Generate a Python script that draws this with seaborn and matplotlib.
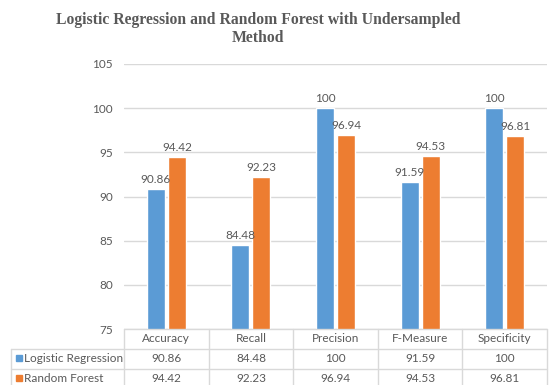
import numpy as np
import pandas as pd
import matplotlib
matplotlib.use("Agg")
import matplotlib.pyplot as plt
import seaborn as sns
from matplotlib.lines import Line2D

# metrics and scores
metrics = ["Accuracy", "Recall", "Precision", "F-Measure", "Specificity"]
models = ["Logistic Regression", "Random Forest"]
lr_scores = [90.86, 84.48, 100, 91.59, 100]
rf_scores = [94.42, 92.23, 96.94, 94.53, 96.81]
yticks = [75, 80, 85, 90, 95, 100, 105]

colors = ["#5B9BD5", "#ED7D31"]
grey = "#595959"
line_grey = "#D9D9D9"

df = pd.DataFrame({
    "metric": metrics * 2,
    "model": [models[0]] * len(metrics) + [models[1]] * len(metrics),
    "score": lr_scores + rf_scores,
})

sns.set_style("white")
plt.rcParams["font.family"] = ["Lato", "DejaVu Sans"]

W, H = 558, 385
fig = plt.figure(figsize=(W / 100, H / 100), dpi=100)

def fx(px):
    return px / W

def fy(py):
    return 1 - py / H

x0, x1, ytop, ybot = 124, 547, 64, 329
ax = fig.add_axes([fx(x0), fy(ybot), fx(x1) - fx(x0), fy(ytop) - fy(ybot)])

sns.barplot(data=df, x="metric", y="score", hue="model", palette=colors,
            width=0.5, gap=0.15, ax=ax, legend=False, saturation=1)

for cont, vals in zip(ax.containers, [lr_scores, rf_scores]):
    ax.bar_label(cont, labels=[f"{v:g}" for v in vals], padding=3,
                 fontsize=8.5, color=grey)

ax.set_ylim(75, 105)
ax.set_yticks(yticks)
ax.set_xlim(-0.5, len(metrics) - 0.5)
ax.set_xticks([])
ax.set_xlabel("")
ax.set_ylabel("")
ax.yaxis.grid(True, color=line_grey, lw=1)
ax.set_axisbelow(True)
ax.tick_params(axis="y", length=0, labelsize=8.5, labelcolor=grey, pad=8)
sns.despine(ax=ax, left=True, bottom=True)

# title
fig.text(fx(258), fy(20), "Logistic Regression and Random Forest with Undersampled",
         ha="center", va="center", fontsize=11.3, fontweight="bold",
         family="Liberation Serif", color=grey)
fig.text(fx(258), fy(38), "Method", ha="center", va="center", fontsize=11.3,
         fontweight="bold", family="Liberation Serif", color=grey)

# data table under the axis
col_w = (x1 - x0) / len(metrics)
row_y = [329, 349, 369, 389]
left = 11

def hline(y, xa, xb):
    fig.add_artist(Line2D([fx(xa), fx(xb)], [fy(y), fy(y)], color=line_grey, lw=1))

def vline(x, ya, yb):
    fig.add_artist(Line2D([fx(x), fx(x)], [fy(ya), fy(yb)], color=line_grey, lw=1))

hline(row_y[0], x0, x1)
for y in row_y[1:]:
    hline(y, left, x1)
for i in range(len(metrics) + 1):
    vline(x0 + i * col_w, row_y[0], row_y[3])
vline(left, row_y[1], row_y[3])

for i, m in enumerate(metrics):
    cx = x0 + (i + 0.5) * col_w
    fig.text(fx(cx), fy((row_y[0] + row_y[1]) / 2), m, ha="center", va="center",
             fontsize=8.5, color=grey)
    for r, vals in enumerate([lr_scores, rf_scores]):
        cy = (row_y[r + 1] + row_y[r + 2]) / 2 - 1
        fig.text(fx(cx), fy(cy), f"{vals[i]:g}", ha="center", va="center",
                 fontsize=8.5, color=grey)

for r, name in enumerate(models):
    cy = (row_y[r + 1] + row_y[r + 2]) / 2 - 1
    fig.add_artist(Line2D([fx(18.5)], [fy(cy)], marker="s", ms=4.5,
                          color=colors[r], lw=0))
    fig.text(fx(24.5), fy(cy), name, ha="left", va="center",
             fontsize=8.5, color=grey)

fig.savefig("out.png", dpi=100)
